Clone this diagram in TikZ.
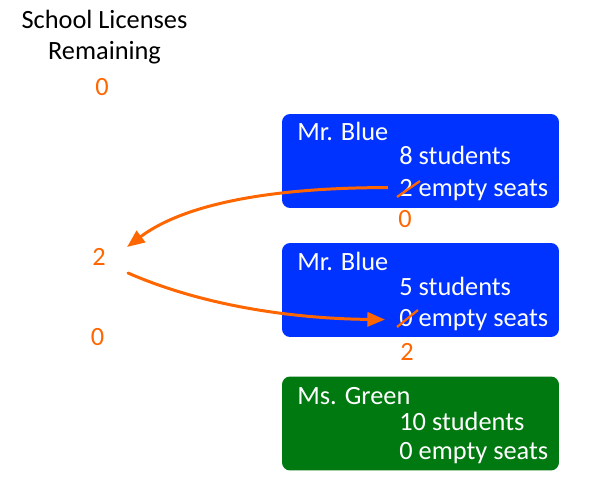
\documentclass[tikz,border=0pt]{standalone}
\usepackage{fontspec}
\setmainfont{Carlito}
\usetikzlibrary{arrows.meta}
\definecolor{boxblue}{RGB}{0,51,255}
\definecolor{boxgreen}{RGB}{0,122,16}
\definecolor{licorange}{RGB}{255,102,0}

\begin{document}
\begin{tikzpicture}[x=0.02cm,y=-0.02cm,font=\fontsize{15}{18}\selectfont,
    classbox/.style={rounded corners=0.16cm,minimum width=5.54cm,minimum height=1.88cm,inner sep=0pt},
    boxtext/.style={text=white,anchor=base west,inner sep=0pt},
    num/.style={text=licorange,inner sep=0pt},
    flow/.style={licorange,line width=1.7pt,-{Triangle[length=10pt,width=8pt]}},
    strike/.style={licorange,line width=1.3pt}]
                \useasboundingbox (0,0) rectangle (600,500);

                \node[align=center,anchor=base] (title) at (104.5,60) {School Licenses\\Remaining};
                \node[num] (licTop) at (102,87) {0};
                \node[num] (licMid) at (99,257) {2};
                \node[num] (licBot) at (97.5,337) {0};

                \node[classbox,fill=boxblue] (blueA) at (420.5,161) {};
                \node[classbox,fill=boxblue] (blueB) at (420.5,290) {};
                \node[classbox,fill=boxgreen] (green) at (420.5,423.5) {};

                \node[boxtext] (nameA) at (297,141) {Mr. Blue};
                \node[boxtext] (kidsA) at (399,165) {8 students};
                \node[boxtext] (seatsA) at (399,197) {2 empty seats};
                \node[boxtext] (nameB) at (297,271) {Mr. Blue};
                \node[boxtext] (kidsB) at (399,296) {5 students};
                \node[boxtext] (seatsB) at (399,327) {0 empty seats};
                \node[boxtext] (nameC) at (297,405) {Ms. Green};
                \node[boxtext] (kidsC) at (399,431) {10 students};
                \node[boxtext] (seatsC) at (399,460) {0 empty seats};

                \node[num] (leftA) at (405,219) {0};
                \node[num] (leftB) at (407,352) {2};

                \draw[strike] ([shift={(-2,0)}]seatsA.base west) -- +(23,-16);
                \draw[strike] ([shift={(-2,0)}]seatsB.base west) -- +(21,-17);

                \draw[flow] ([shift={(-11,-3)}]seatsA.west) .. controls +(-138,0) and +(49,-37) .. ([shift={(21,-10)}]licMid.east);
                \draw[line cap=round,flow] ([shift={(22,16)}]licMid.east) .. controls +(73,32) and +(-95,-1) .. ([shift={(-14,-1)}]seatsB.west);
            \end{tikzpicture}
\end{document}
